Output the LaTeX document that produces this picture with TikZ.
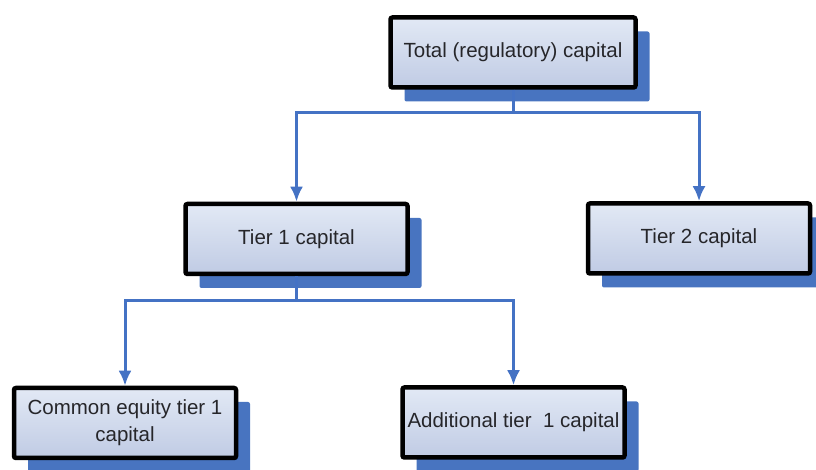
\documentclass[tikz,border=0pt]{standalone}
\usepackage{fontspec}
\setmainfont{Liberation Sans}
\usepackage{xcolor}
\usepackage{tikz}
\usetikzlibrary{arrows.meta, shadows}

\definecolor{linkblue}{RGB}{68,114,196}
\definecolor{shadeblue}{RGB}{72,116,192}
\definecolor{boxtop}{RGB}{226,233,245}
\definecolor{boxbottom}{RGB}{192,203,228}
\definecolor{labelgray}{RGB}{38,38,42}

\begin{document}
\begin{tikzpicture}[
    x=1pt, y=1pt,
    block/.style={rectangle, draw=black, line width=4.5pt, rounded corners=2pt,
        top color=boxtop, bottom color=boxbottom, text=labelgray,
        font=\fontsize{20.5}{27}\selectfont, align=center,
        minimum width=222pt, minimum height=70pt,
        drop shadow={shadow xshift=14pt, shadow yshift=-14pt, fill=shadeblue, opacity=1}},
    line/.style={draw=linkblue, line width=3pt, -{Latex[length=15pt, width=13pt]}}
]
\useasboundingbox (0,0) rectangle (816,470);

\node [block, minimum width=245pt] (total) at (513,417.5) {Total (regulatory) capital};
\node [block] (tierone) at (296.5,231) {Tier 1 capital};
\node [block] (tiertwo) at (699,231.5) {Tier 2 capital};
\node [block] (common) at (125,47) {Common equity tier 1\\capital};
\node [block] (additional) at (513.5,47.5) {Additional tier~ 1 capital};

\path [line] (total.south) -- ++(0,-23) -| (tierone.north);
\path [line] (total.south) -- ++(0,-23) -| (tiertwo.north);
\path [line] (tierone.south) -- ++(0,-24) -| (common.north);
\path [line] (tierone.south) -- ++(0,-24) -| (additional.north);
\end{tikzpicture}
\end{document}
